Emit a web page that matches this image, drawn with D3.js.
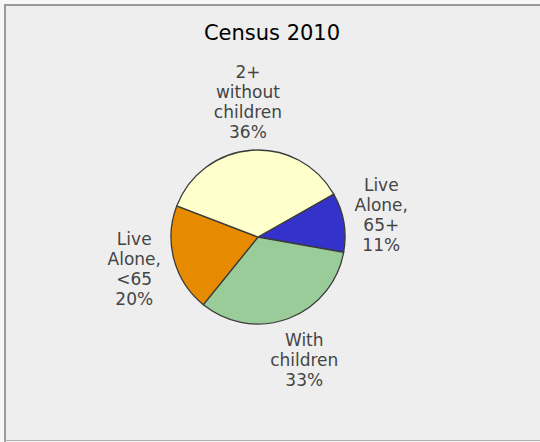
<!DOCTYPE html>
<html>
<head>
<meta charset="utf-8">
<script src="https://cdn.jsdelivr.net/npm/d3@7"></script>
<style>
  body { margin: 0; background: #f7f7f7; }
  svg { display: block; }
</style>
</head>
<body>
<script>
// Census 2010 household types (percent)
var categories = ['Live Alone, 65+', 'With children', 'Live Alone, <65', '2+ without children'];
var labelLines = [['Live', 'Alone,', '65+'], ['With', 'children'], ['Live', 'Alone,', '<65'], ['2+', 'without', 'children']];
var values = [11, 33, 20, 36];
var colors = ['#3333cc', '#99cc99', '#e68a00', '#ffffcc'];

var width = 540, height = 442;
var cx = 258, cy = 237, radius = 87;

let svg = d3.select('body').append('svg')
    .attr('width', width)
    .attr('height', height);

// panel
svg.append('rect')
    .attr('x', 4).attr('y', 4)
    .attr('width', width - 4).attr('height', height - 5)
    .style('fill', '#eeeeee');
svg.append('path')
    .attr('d', 'M5 442 L5 5 L540 5')
    .style('fill', 'none')
    .style('stroke', '#9a9a9a')
    .attr('stroke-width', 2);
svg.append('path')
    .attr('d', 'M4 440.5 L540 440.5')
    .style('stroke', '#b0b0b0')
    .attr('stroke-width', 1);

svg.append('text')
    .attr('x', 272)
    .attr('y', 40)
    .attr('text-anchor', 'middle')
    .style('font-family', 'DejaVu Sans, Verdana, sans-serif')
    .style('font-size', '21px')
    .style('fill', '#000')
    .text('Census 2010');

let pie = d3.pie()
    .sort(null)
    .startAngle(60.5 * Math.PI / 180)
    .endAngle((60.5 + 360) * Math.PI / 180);

let arc = d3.arc().innerRadius(0).outerRadius(radius);

let g = svg.append('g')
    .attr('transform', 'translate(' + cx + ',' + cy + ')');

let arcs = pie(values);

g.selectAll('path.slice')
    .data(arcs)
    .enter().append('path')
    .attr('class', 'slice')
    .attr('d', arc)
    .style('fill', (d, i) => colors[i])
    .style('stroke', '#3a3a3a')
    .attr('stroke-width', 1.3);

// labels placed outside, pushed out by the size of their text block
var lineH = 20;
arcs.forEach(function(d, i) {
    let lines = labelLines[i].concat([values[i] + '%']);
    let t = g.append('text')
        .attr('text-anchor', 'middle')
        .style('font-family', 'DejaVu Sans, Verdana, sans-serif')
        .style('font-size', '17px')
        .style('fill', '#454545')
        .attr('title', categories[i]);
    lines.forEach(function(s, k) {
        t.append('tspan').attr('x', 0).attr('dy', k == 0 ? 0 : lineH).text(s);
    });
    let bb = t.node().getBBox();
    let a = (d.startAngle + d.endAngle) / 2;
    let sx = Math.sin(a), sy = -Math.cos(a);
    let off = radius + 5 + (bb.width / 2) * Math.abs(sx) + (lines.length * lineH / 2) * Math.abs(sy);
    let px = off * sx, py = off * sy;
    // first baseline: block top plus cap height
    let top = py - lines.length * lineH / 2;
    t.attr('transform', 'translate(' + px + ',' + (top + 15) + ')');
});
</script>
</body>
</html>
